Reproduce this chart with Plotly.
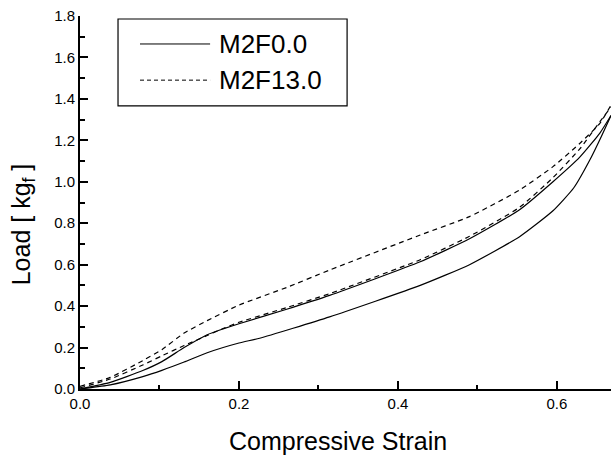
import plotly.graph_objects as go

# ---- data ----
f0_low_strain = [0.0, 0.038, 0.079, 0.103, 0.131, 0.16, 0.2, 0.226, 0.314, 0.428, 0.49, 0.553, 0.595, 0.621, 0.642, 0.656, 0.668]
f0_low_load = [0.0, 0.02, 0.06, 0.09, 0.13, 0.175, 0.222, 0.245, 0.348, 0.50, 0.60, 0.735, 0.86, 0.97, 1.11, 1.22, 1.32]

f0_up_strain = [0.0, 0.038, 0.079, 0.103, 0.131, 0.16, 0.18, 0.2, 0.26, 0.314, 0.428, 0.49, 0.553, 0.595, 0.629, 0.654, 0.668]
f0_up_load = [0.0, 0.032, 0.089, 0.132, 0.2, 0.262, 0.29, 0.315, 0.385, 0.452, 0.614, 0.725, 0.865, 1.0, 1.12, 1.235, 1.32]

f13_low_strain = [0.0, 0.038, 0.079, 0.103, 0.131, 0.16, 0.18, 0.2, 0.26, 0.314, 0.428, 0.49, 0.553, 0.595, 0.629, 0.654, 0.668]
f13_low_load = [0.005, 0.048, 0.116, 0.16, 0.21, 0.258, 0.292, 0.322, 0.393, 0.46, 0.624, 0.737, 0.877, 1.02, 1.16, 1.29, 1.36]

f13_up_strain = [0.0, 0.038, 0.079, 0.103, 0.131, 0.16, 0.2, 0.26, 0.314, 0.428, 0.49, 0.553, 0.595, 0.629, 0.654, 0.668]
f13_up_load = [0.013, 0.056, 0.137, 0.19, 0.27, 0.33, 0.405, 0.49, 0.574, 0.743, 0.832, 0.96, 1.073, 1.186, 1.282, 1.37]

x_ticks = [0.0, 0.2, 0.4, 0.6]
y_ticks = [0.0, 0.2, 0.4, 0.6, 0.8, 1.0, 1.2, 1.4, 1.6, 1.8]
legend_names = ["M2F0.0", "M2F13.0"]

FONT = "Arial, Liberation Sans, sans-serif"

fig = go.Figure()
series = [
    (f0_low_strain, f0_low_load, "solid", legend_names[0]),
    (f0_up_strain, f0_up_load, "solid", legend_names[0]),
    (f13_low_strain, f13_low_load, "5px,4px", legend_names[1]),
    (f13_up_strain, f13_up_load, "5px,4px", legend_names[1]),
]
for xs, ys, dash, name in series:
    fig.add_trace(go.Scatter(
        x=xs, y=ys, mode="lines", name=name, showlegend=False,
        line=dict(color="black", width=1.2, dash=dash, shape="spline", smoothing=0.5),
    ))

axis_common = dict(
    showgrid=False, zeroline=False, showline=True, linecolor="black", linewidth=2,
    ticks="inside", ticklen=8, tickwidth=1.5, tickcolor="black",
    tickfont=dict(family=FONT, size=15, color="black"),
    tickformat=".1f", mirror=False,
)
fig.update_xaxes(range=[0, 0.668], tickvals=x_ticks,
                 minor=dict(dtick=0.1, tick0=0, ticks="inside", ticklen=4, tickwidth=1.5, tickcolor="black"),
                 **axis_common)
fig.update_yaxes(range=[0, 1.8], tickvals=y_ticks,
                 minor=dict(dtick=0.1, tick0=0, ticks="inside", ticklen=5, tickwidth=1.5, tickcolor="black"),
                 **axis_common)

# legend box drawn by hand to match the reference
shapes = [
    dict(type="rect", xref="paper", yref="paper", x0=0.0716, x1=0.503, y0=0.759, y1=0.992,
         line=dict(color="black", width=1.2), fillcolor="white", layer="above"),
    dict(type="line", xref="paper", yref="paper", x0=0.113, x1=0.245, y0=0.925, y1=0.925,
         line=dict(color="black", width=1)),
    dict(type="line", xref="paper", yref="paper", x0=0.113, x1=0.245, y0=0.828, y1=0.828,
         line=dict(color="black", width=1, dash="4px,3px")),
]
annotations = [
    dict(text=legend_names[0], xref="paper", yref="paper", x=0.258, y=0.925, xanchor="left",
         yanchor="middle", showarrow=False, font=dict(family=FONT, size=26, color="black")),
    dict(text=legend_names[1], xref="paper", yref="paper", x=0.258, y=0.828, xanchor="left",
         yanchor="middle", showarrow=False, font=dict(family=FONT, size=26, color="black")),
    dict(text="Compressive Strain", xref="paper", yref="paper", x=0.486, y=-0.139,
         xanchor="center", yanchor="middle", showarrow=False,
         font=dict(family=FONT, size=25, color="black")),
    dict(text="Load [ kg<sub>f</sub> ]", xref="paper", yref="paper", x=-0.107, y=0.442,
         xanchor="center", yanchor="middle", textangle=-90, showarrow=False,
         font=dict(family=FONT, size=25, color="black")),
]

fig.update_layout(
    width=611, height=455,
    margin=dict(l=80, r=0, t=16, b=66),
    paper_bgcolor="white", plot_bgcolor="white",
    shapes=shapes, annotations=annotations, showlegend=False,
)
fig.write_html("out.html")
